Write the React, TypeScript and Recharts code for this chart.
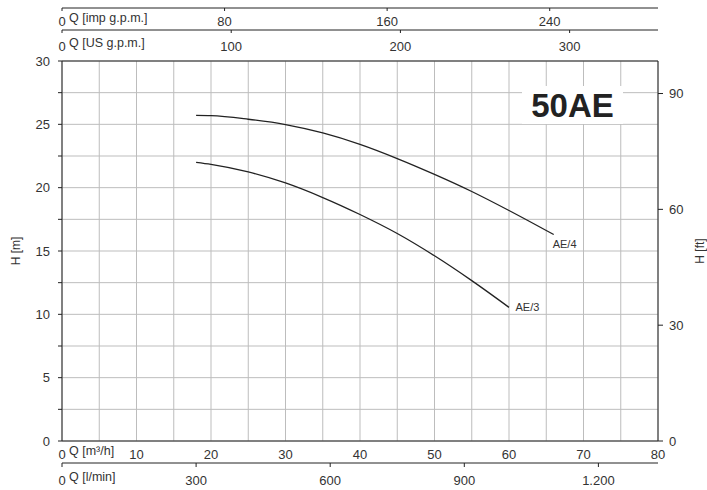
import { LineChart, Line, XAxis, YAxis, CartesianGrid, ReferenceLine } from "recharts";

// pump curves, Q in m3/h, H in m
const flowAE4 = [18, 20, 25, 30, 35, 40, 45, 50, 55, 60, 66];
const headAE4 = [25.7, 25.68, 25.4, 24.98, 24.32, 23.42, 22.3, 21.05, 19.7, 18.2, 16.3];
const flowAE3 = [18, 20, 25, 30, 35, 40, 45, 50, 55, 60];
const headAE3 = [22.0, 21.84, 21.24, 20.37, 19.22, 17.88, 16.38, 14.62, 12.66, 10.55];

const m3hTicks = [0, 5, 10, 15, 20, 25, 30, 35, 40, 45, 50, 55, 60, 65, 70, 75, 80];
const lminTicks = [0, 300, 600, 900, 1200];
const impTicks = [0, 80, 160, 240];
const usTicks = [0, 100, 200, 300];
const headTicks = [0, 2.5, 5, 7.5, 10, 12.5, 15, 17.5, 20, 22.5, 25, 27.5, 30];
const feetTicks = [0, 30, 60, 90];

const Q_MAX = 80;
const H_MAX = 30;
const lminMax = (Q_MAX * 1000) / 60;
const impMax = lminMax / 4.54609;
const usMax = lminMax / 3.785411784;
const ftMax = H_MAX / 0.3048;

const ae4 = flowAE4.map((q, i) => ({ q, h: headAE4[i] }));
const ae3 = flowAE3.map((q, i) => ({ q, h: headAE3[i] }));
// rows for the secondary flow scales (axes need chart data to build their scale)
const lminRows = lminTicks.map((lmin) => ({ lmin }));
const gpmRows = impTicks.map((imp, i) => ({ imp, us: usTicks[i] }));

const FONT = "'Liberation Sans', Arial, Helvetica, sans-serif";
const TEXT = "#333";
const AXIS = "#222";
const GRID = "#bdbdbd";

const fmtThousands = (v: number) => (v >= 1000 ? `${Math.floor(v / 1000)}.${String(v % 1000).padStart(3, "0")}` : String(v));

const makeTick = (unit: string, fmt: (v: number) => string = String) => (props: any) => {
  const { x, y, payload } = props;
  const v = payload.value;
  return (
    <g>
      <text x={x} y={y} dy="0.71em" textAnchor="middle" fontSize={13} fill={TEXT} fontFamily={FONT}>
        {fmt(v)}
      </text>
      {v === 0 && (
        <text x={x + 7} y={y - 4} dy="0.71em" textAnchor="start" fontSize={12.5} fill={TEXT} fontFamily={FONT}>
          {unit}
        </text>
      )}
    </g>
  );
};

const endLabel = (name: string, n: number, dx: number, dy: number) => (p: any) =>
  p.index === n - 1 ? (
    <text x={p.x + dx} y={p.y + dy} fontSize={11} fill={TEXT} fontFamily={FONT} dominantBaseline="central">
      {name}
    </text>
  ) : null;

const sideTitle = (text: string, side: "left" | "right") => (p: any) => {
  const vb = p.viewBox;
  const x = side === "left" ? vb.x + 2 : vb.x + vb.width - 7;
  const y = vb.y + vb.height / 2;
  return (
    <text x={x} y={y} transform={`rotate(-90 ${x} ${y})`} textAnchor="middle" dominantBaseline="central" fontSize={12} fill={TEXT} fontFamily={FONT}>
      {text}
    </text>
  );
};

export default function App() {
  return (
    <div style={{ position: "absolute", left: 0, top: 0, width: 707, height: 490, background: "#fff", fontFamily: FONT }}>
      <div style={{ position: "absolute", left: 0, top: 0 }}>
        <LineChart width={707} height={490} data={lminRows} margin={{ top: 61, right: 0, bottom: 0, left: 14 }}>
          <CartesianGrid xAxisId="qa" yAxisId="m" stroke={GRID} strokeWidth={1} />
          <XAxis
            xAxisId="qb"
            dataKey="lmin"
            type="number"
            domain={[0, lminMax]}
            ticks={lminTicks}
            allowDataOverflow
            height={27}
            tickSize={4}
            tickMargin={9}
            stroke={AXIS}
            tickLine={{ stroke: AXIS }}
            tick={makeTick("Q [l/min]", fmtThousands)}
          />
          <XAxis
            xAxisId="qa"
            dataKey="q"
            type="number"
            domain={[0, Q_MAX]}
            ticks={m3hTicks}
            allowDataOverflow
            height={22}
            tickSize={3}
            tickMargin={6}
            stroke={AXIS}
            tickLine={false}
            tick={makeTick("Q [m³/h]", (v) => (v % 10 === 0 ? String(v) : ""))}
          />
          <YAxis
            yAxisId="m"
            domain={[0, H_MAX]}
            ticks={headTicks}
            allowDataOverflow
            width={48}
            tickSize={4}
            tickMargin={8}
            stroke={AXIS}
            tickLine={{ stroke: AXIS }}
            tick={{ fontSize: 13, fill: TEXT, fontFamily: FONT }}
            tickFormatter={(v: number) => (v % 5 === 0 ? String(v) : "")}
            label={{ content: sideTitle("H [m]", "left") }}
          />
          <YAxis
            yAxisId="ft"
            orientation="right"
            domain={[0, ftMax]}
            ticks={feetTicks}
            allowDataOverflow
            width={49}
            tickSize={5}
            tickMargin={6}
            stroke={AXIS}
            tickLine={{ stroke: AXIS }}
            tick={{ fontSize: 13, fill: TEXT, fontFamily: FONT }}
            label={{ content: sideTitle("H [ft]", "right") }}
          />
          <ReferenceLine xAxisId="qa" yAxisId="m" y={H_MAX} stroke={AXIS} />
          <Line
            xAxisId="qa"
            yAxisId="m"
            data={ae4}
            dataKey="h"
            type="monotone"
            stroke="#222"
            strokeWidth={1.3}
            dot={false}
            isAnimationActive={false}
            label={endLabel("AE/4", ae4.length, -1, 9)}
          />
          <Line
            xAxisId="qa"
            yAxisId="m"
            data={ae3}
            dataKey="h"
            type="monotone"
            stroke="#222"
            strokeWidth={1.3}
            dot={false}
            isAnimationActive={false}
            label={endLabel("AE/3", ae3.length, 6.5, 0)}
          />
        </LineChart>
      </div>

      <div
        style={{
          position: "absolute",
          left: 522,
          top: 86,
          width: 101,
          height: 38,
          background: "#fff",
          display: "flex",
          alignItems: "center",
          justifyContent: "center",
          fontSize: 33,
          fontWeight: 700,
          color: "#222",
          lineHeight: 1,
        }}
      >
        50AE
      </div>

      <div style={{ position: "absolute", left: 0, top: 0, pointerEvents: "none" }}>
        <LineChart width={707} height={490} data={gpmRows} margin={{ top: 7, right: 49, bottom: 429, left: 62 }}>
          <XAxis
            xAxisId="tb"
            dataKey="us"
            type="number"
            domain={[0, usMax]}
            ticks={usTicks}
            allowDataOverflow
            height={31}
            tickSize={3}
            tickMargin={9}
            stroke={AXIS}
            tickLine={{ stroke: AXIS }}
            tick={makeTick("Q [US g.p.m.]")}
          />
          <XAxis
            xAxisId="ta"
            dataKey="imp"
            type="number"
            domain={[0, impMax]}
            ticks={impTicks}
            allowDataOverflow
            height={22}
            tickSize={3}
            tickMargin={6}
            stroke={AXIS}
            tickLine={{ stroke: AXIS }}
            tick={makeTick("Q [imp g.p.m.]")}
          />
          <YAxis yAxisId="o" hide domain={[0, 1]} />
        </LineChart>
      </div>
    </div>
  );
}
